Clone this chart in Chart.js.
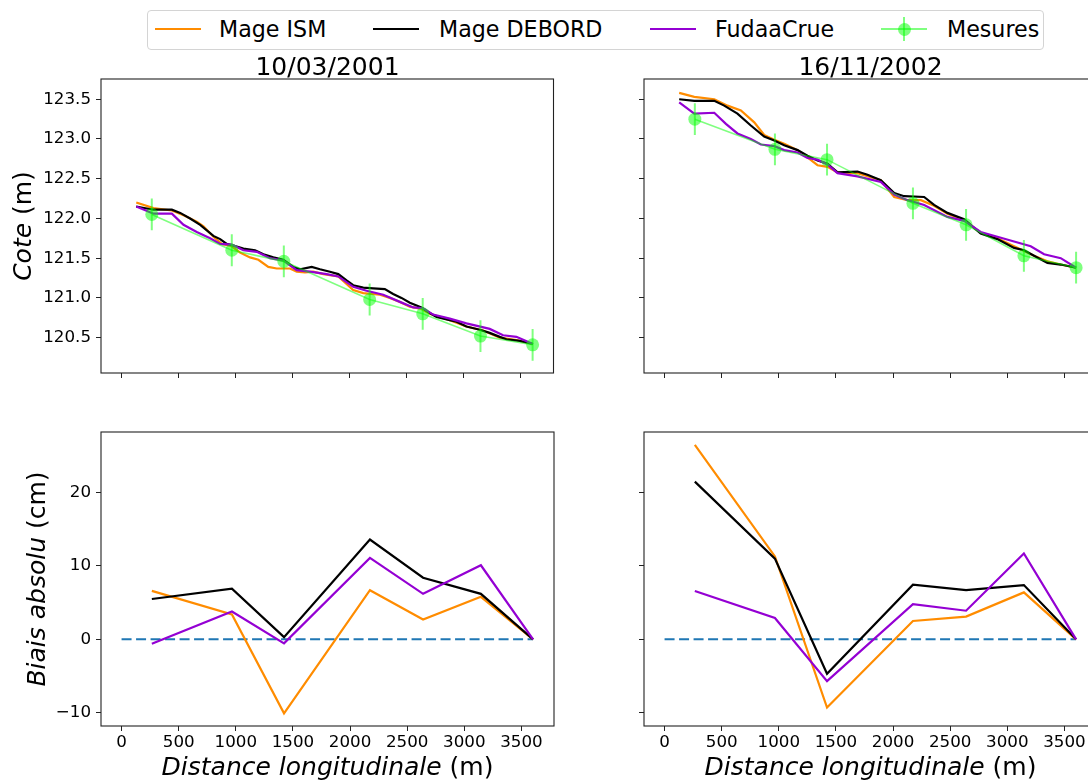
<!DOCTYPE html>
<html><head><meta charset="utf-8">
<script src="https://cdn.jsdelivr.net/npm/chart.js@4.4.1/dist/chart.umd.min.js"></script>
<style>
html,body{margin:0;padding:0;background:#fff;overflow:hidden;width:1088px;height:781px;}
canvas{position:absolute;}
#legend{position:absolute;left:147px;top:10px;width:895px;height:38px;border:1px solid #d4d4d4;border-radius:4px;background:#fff;font-family:'DejaVu Sans',sans-serif;font-size:22.2px;color:#000;z-index:5;}
.txt{position:absolute;top:0;height:36px;line-height:36px;white-space:nowrap;}
.sw{position:absolute;top:17px;width:46px;height:2.2px;}
.dot{position:absolute;width:13px;height:13px;border-radius:50%;background:rgba(0,255,0,0.5);top:11.5px;}
.vbar{position:absolute;width:2px;height:24px;background:rgba(0,255,0,0.5);top:6px;}
</style></head><body>
<div id="legend">
  <div class="sw" style="left:7px;background:#ff8c00"></div><div class="txt" style="left:71px">Mage ISM</div>
  <div class="sw" style="left:225px;background:#000"></div><div class="txt" style="left:291px">Mage DEBORD</div>
  <div class="sw" style="left:502px;background:#9400d3"></div><div class="txt" style="left:567px">FudaaCrue</div>
  <div class="sw" style="left:733px;background:rgba(0,255,0,0.5)"></div><div class="dot" style="left:749.5px"></div><div class="vbar" style="left:755px"></div><div class="txt" style="left:799px">Mesures</div>
</div>
<canvas id="tl" width="560" height="390" style="left:0;top:0"></canvas>
<canvas id="tr" width="560" height="390" style="left:560px;top:0"></canvas>
<canvas id="bl" width="560" height="391" style="left:0;top:390px"></canvas>
<canvas id="br" width="560" height="391" style="left:560px;top:390px"></canvas>
<script>
// ---------- DATA ----------
const xTicks = [0, 500, 1000, 1500, 2000, 2500, 3000, 3500];
const coteTicks = [120.5, 121.0, 121.5, 122.0, 122.5, 123.0, 123.5];
const biaisTicks = [-10, 0, 10, 20];
const titles = ['10/03/2001', '16/11/2002'];

const mesX = [265, 966, 1422, 2174, 2639, 3145, 3602];
const mes2001 = [122.05, 121.60, 121.46, 120.98, 120.80, 120.52, 120.41];
const mes2002 = [123.25, 122.87, 122.74, 122.19, 121.92, 121.53, 121.38];
const mesErr = 0.2;

const ism2001X = [129, 280, 441, 543, 659, 718, 805, 878, 966, 1039, 1126, 1199, 1286, 1360, 1476, 1535, 1607, 1680, 1768, 1899, 2030, 2118, 2264, 2351, 2439, 2526, 2628, 2701, 2876, 3022, 3168, 3314, 3460, 3605];
const ism2001Y = [122.20, 122.13, 122.10, 122.04, 121.96, 121.90, 121.77, 121.68, 121.65, 121.57, 121.51, 121.48, 121.39, 121.37, 121.37, 121.33, 121.32, 121.33, 121.30, 121.27, 121.10, 121.06, 121.04, 121.00, 120.95, 120.89, 120.86, 120.80, 120.72, 120.64, 120.59, 120.50, 120.47, 120.42];
const deb2001X = [128, 280, 441, 514, 601, 689, 805, 864, 922, 980, 1068, 1170, 1243, 1330, 1418, 1505, 1564, 1666, 1739, 1826, 1899, 1972, 2030, 2118, 2205, 2307, 2380, 2453, 2526, 2628, 2701, 2760, 2876, 2935, 3022, 3139, 3226, 3314, 3372, 3489, 3605];
const deb2001Y = [122.15, 122.11, 122.11, 122.07, 122.00, 121.92, 121.78, 121.74, 121.68, 121.66, 121.62, 121.60, 121.55, 121.51, 121.48, 121.39, 121.36, 121.39, 121.36, 121.33, 121.30, 121.22, 121.16, 121.13, 121.12, 121.11, 121.05, 121.00, 120.94, 120.88, 120.81, 120.76, 120.72, 120.70, 120.64, 120.60, 120.56, 120.51, 120.48, 120.46, 120.42];
const fud2001X = [129, 280, 441, 543, 659, 776, 864, 966, 1068, 1185, 1301, 1418, 1535, 1651, 1797, 1899, 2030, 2147, 2293, 2439, 2556, 2643, 2730, 2876, 3022, 3226, 3343, 3460, 3605];
const fud2001Y = [122.15, 122.06, 122.06, 121.92, 121.83, 121.75, 121.68, 121.67, 121.60, 121.58, 121.50, 121.47, 121.35, 121.33, 121.30, 121.27, 121.14, 121.09, 121.04, 120.95, 120.88, 120.87, 120.79, 120.74, 120.68, 120.61, 120.53, 120.51, 120.42];

const ism2002X = [128, 260, 435, 551, 668, 785, 872, 960, 1047, 1164, 1251, 1339, 1426, 1514, 1689, 1893, 2010, 2126, 2243, 2359, 2476, 2622, 2767, 2913, 3059, 3147, 3234, 3351, 3468, 3602];
const ism2002Y = [123.58, 123.53, 123.50, 123.42, 123.36, 123.21, 123.05, 122.99, 122.94, 122.86, 122.77, 122.67, 122.65, 122.58, 122.57, 122.48, 122.27, 122.23, 122.23, 122.16, 122.06, 121.98, 121.82, 121.75, 121.65, 121.59, 121.53, 121.46, 121.42, 121.38];
const deb2002X = [128, 260, 435, 522, 638, 755, 872, 960, 1047, 1164, 1251, 1339, 1426, 1514, 1689, 1776, 1893, 2010, 2097, 2272, 2359, 2476, 2622, 2767, 2913, 3059, 3147, 3234, 3351, 3468, 3602];
const deb2002Y = [123.50, 123.48, 123.48, 123.42, 123.32, 123.17, 123.03, 122.98, 122.92, 122.86, 122.79, 122.73, 122.69, 122.58, 122.59, 122.55, 122.48, 122.32, 122.28, 122.27, 122.17, 122.07, 121.99, 121.81, 121.74, 121.63, 121.60, 121.53, 121.44, 121.42, 121.38];
const fud2002X = [128, 260, 435, 537, 638, 755, 843, 960, 1047, 1164, 1251, 1339, 1426, 1514, 1689, 1893, 2010, 2126, 2272, 2476, 2622, 2767, 2913, 3059, 3205, 3322, 3468, 3602];
const fud2002Y = [123.46, 123.32, 123.33, 123.19, 123.07, 123.00, 122.93, 122.91, 122.86, 122.83, 122.76, 122.74, 122.68, 122.57, 122.53, 122.46, 122.30, 122.23, 122.17, 122.02, 121.97, 121.83, 121.77, 121.71, 121.65, 121.55, 121.50, 121.38];

const ismBias2001 = [6.6, 3.4, -10.1, 6.7, 2.7, 5.8, 0];
const debBias2001 = [5.5, 6.9, 0.3, 13.6, 8.4, 6.2, 0];
const fudBias2001 = [-0.6, 3.8, -0.55, 11.1, 6.2, 10.1, 0];
const ismBias2002 = [26.5, 11.3, -9.3, 2.5, 3.1, 6.4, 0];
const debBias2002 = [21.5, 11.0, -4.7, 7.45, 6.7, 7.4, 0];
const fudBias2002 = [6.6, 2.9, -5.7, 4.8, 3.9, 11.7, 0];
const zeroX = [0, 3602];
const zeroY = [0, 0];

// ---------- STYLE ----------
const FONT = "'DejaVu Sans', sans-serif";
const C_ISM = '#ff8c00', C_DEB = '#000000', C_FUD = '#9400d3', C_MES = 'rgba(0,255,0,0.5)';
const X_MIN = -180, X_MAX = 3785;

function series(xs, ys) { return xs.map((x, i) => ({x: x, y: ys[i]})); }
function errSeries(xs, ys, e) {
  const out = [];
  xs.forEach((x, i) => { out.push({x: x, y: ys[i] - e}); out.push({x: x, y: ys[i] + e}); out.push({x: x, y: null}); });
  return out;
}
function lineDs(label, data, color, extra) {
  return Object.assign({label: label, data: data, borderColor: color, backgroundColor: color,
    borderWidth: 2.2, pointRadius: 0, fill: false, tension: 0, spanGaps: false}, extra || {});
}
function topDatasets(mes, ix, iy, dx, dy, fx, fy) {
  return [
    lineDs('Mesures', series(mesX, mes), C_MES, {borderWidth: 1.6, pointRadius: 6.5, pointBorderWidth: 0, pointBackgroundColor: C_MES}),
    lineDs('Mesures erreur', errSeries(mesX, mes, mesErr), C_MES, {borderWidth: 2}),
    lineDs('FudaaCrue', series(fx, fy), C_FUD),
    lineDs('Mage DEBORD', series(dx, dy), C_DEB),
    lineDs('Mage ISM', series(ix, iy), C_ISM)
  ];
}
function botDatasets(ib, db, fb) {
  return [
    lineDs('FudaaCrue', series(mesX, fb), C_FUD),
    lineDs('Mage DEBORD', series(mesX, db), C_DEB),
    lineDs('Mage ISM', series(mesX, ib), C_ISM),
    lineDs('zero', series(zeroX, zeroY), '#1f77b4', {borderWidth: 2, borderDash: [10, 4.5]})
  ];
}

function drawParts(ctx, parts, cx, cy, rot) {
  ctx.save();
  ctx.translate(cx, cy);
  ctx.rotate(rot);
  ctx.textBaseline = 'alphabetic';
  ctx.textAlign = 'left';
  ctx.fillStyle = '#000';
  let total = 0;
  const ws = parts.map(p => { ctx.font = (p[1] ? 'italic ' : '') + '25px ' + FONT; const w = ctx.measureText(p[0]).width; total += w; return w; });
  let x = -total / 2;
  parts.forEach((p, k) => { ctx.font = (p[1] ? 'italic ' : '') + '25px ' + FONT; ctx.fillText(p[0], x, 0); x += ws[k]; });
  ctx.restore();
}
const axisLabels = {
  id: 'axisLabels',
  afterDraw(chart, args, opts) {
    const ctx = chart.ctx, a = chart.chartArea;
    if (opts.x) drawParts(ctx, opts.x, (a.left + a.right) / 2, opts.xBase, 0);
    if (opts.y) drawParts(ctx, opts.y, opts.yBase, (a.top + a.bottom) / 2, -Math.PI / 2);
  }
};
const frame = {
  id: 'frame',
  afterDatasetsDraw(chart) {
    const ctx = chart.ctx, a = chart.chartArea;
    ctx.save();
    ctx.strokeStyle = '#222';
    ctx.lineWidth = 1.1;
    ctx.strokeRect(a.left, a.top, a.right - a.left, a.bottom - a.top);
    ctx.restore();
  }
};
// the y axis takes no layout width (so the title centres over the plot); give its labels room to be drawn
const labelRoom = {
  id: 'labelRoom',
  afterLayout(chart) { const y = chart.scales.y; y.left = 0; y.width = y.right; }
};

function makeChart(id, c) {
  const tickFont = {family: FONT, size: 16.7};
  return new Chart(document.getElementById(id), {
    type: 'line',
    data: {datasets: c.datasets},
    plugins: [labelRoom, axisLabels, frame],
    options: {
      responsive: false, animation: false, devicePixelRatio: 1,
      layout: {padding: {left: c.padL, right: c.padR, top: c.padT, bottom: c.padB}},
      plugins: {
        legend: {display: false}, tooltip: {enabled: false},
        title: c.title ? {display: true, text: c.title, color: '#000', font: {family: FONT, size: 25, lineHeight: 0.8, weight: 'normal'}, padding: {top: 0, bottom: 1}} : {display: false},
        axisLabels: {x: c.xLabel, xBase: c.xBase, y: c.yLabel, yBase: c.yBase}
      },
      scales: {
        x: {
          type: 'linear', min: X_MIN, max: X_MAX,
          afterBuildTicks: s => { s.ticks = xTicks.map(v => ({value: v})); },
          afterFit: s => { s.height = c.xH; },
          grid: {drawOnChartArea: false, drawTicks: true, tickLength: 5, color: '#222', lineWidth: 1},
          border: {display: false},
          ticks: {display: c.xShow, color: '#000', font: tickFont, padding: 1.5, maxRotation: 0, autoSkip: false, callback: v => String(v)}
        },
        y: {
          type: 'linear', min: c.yMin, max: c.yMax,
          afterBuildTicks: s => { s.ticks = c.yTicks.map(v => ({value: v})); },
          afterFit: s => { s.width = 0; },
          grid: {drawOnChartArea: false, drawTicks: true, tickLength: 5, color: '#222', lineWidth: 1},
          border: {display: false},
          ticks: {display: c.yShow, color: '#000', font: tickFont, padding: 5, autoSkip: false, callback: c.yFmt}
        }
      }
    }
  });
}

const coteFmt = v => v.toFixed(1);
const biaisFmt = v => (v < 0 ? '\u2212' + Math.abs(v) : String(v));
const xLab = [['Distance longitudinale', true], [' (m)', false]];

makeChart('tl', {datasets: topDatasets(mes2001, ism2001X, ism2001Y, deb2001X, deb2001Y, fud2001X, fud2001Y),
  title: titles[0], padL: 101, padT: 58, padR: 6, padB: 7, xH: 10, xShow: false, yShow: true,
  yMin: 120.055, yMax: 123.755, yTicks: coteTicks, yFmt: coteFmt,
  yLabel: [['Cote', true], [' (m)', false]], yBase: 31});
makeChart('tr', {datasets: topDatasets(mes2002, ism2002X, ism2002Y, deb2002X, deb2002Y, fud2002X, fud2002Y),
  title: titles[1], padL: 84, padT: 58, padR: 23, padB: 7, xH: 10, xShow: false, yShow: false,
  yMin: 120.055, yMax: 123.755, yTicks: coteTicks, yFmt: coteFmt});
makeChart('bl', {datasets: botDatasets(ismBias2001, debBias2001, fudBias2001),
  padL: 101, padT: 42, padR: 6, padB: 0, xH: 55, xShow: true, yShow: true,
  yMin: -11.82, yMax: 28.27, yTicks: biaisTicks, yFmt: biaisFmt,
  xLabel: xLab, xBase: 385, yLabel: [['Biais absolu', true], [' (cm)', false]], yBase: 45});
makeChart('br', {datasets: botDatasets(ismBias2002, debBias2002, fudBias2002),
  padL: 84, padT: 42, padR: 23, padB: 0, xH: 55, xShow: true, yShow: false,
  yMin: -11.82, yMax: 28.27, yTicks: biaisTicks, yFmt: biaisFmt,
  xLabel: xLab, xBase: 385});
</script>
</body></html>
